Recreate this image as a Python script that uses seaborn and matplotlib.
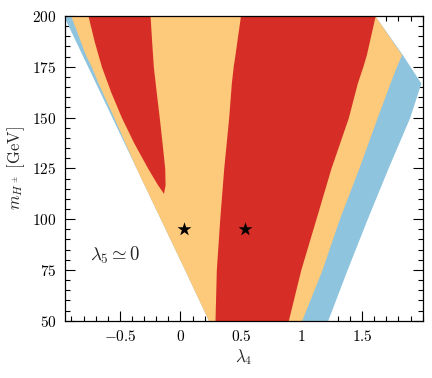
import numpy as np
import matplotlib
matplotlib.use("Agg")
import matplotlib.pyplot as plt
import seaborn as sns
import pandas as pd

# boundaries of the allowed regions (x = lambda_4 at each mass)
m_grid = [50, 75, 100, 125, 150, 167, 175, 181, 200]
edge_left = [0.232, 0.035, -0.165, -0.365, -0.565, -0.701, -0.765, -0.813, -0.965]
edge_blue_left = [0.232, 0.035, -0.165, -0.365, -0.550, -0.680, -0.735, -0.785, -0.905]
edge_red_left = [0.285, 0.296, 0.324, 0.357, 0.398, 0.420, 0.435, 0.450, 0.495]
edge_red_right = [0.890, 0.993, 1.118, 1.242, 1.386, 1.460, 1.505, 1.535, 1.607]
edge_orange_right = [1.000, 1.168, 1.311, 1.472, 1.624, 1.730, 1.782, 1.825, 1.607]
edge_right = [1.215, 1.375, 1.541, 1.713, 1.892, 1.985, 1.897, 1.832, 1.607]

# left red tongue
m_tongue = [112.7, 117, 125, 137.5, 150, 162.5, 175, 187.5, 200]
tongue_left = [-0.140, -0.190, -0.270, -0.385, -0.487, -0.575, -0.652, -0.712, -0.763]
tongue_right = [-0.140, -0.127, -0.130, -0.152, -0.175, -0.200, -0.224, -0.238, -0.251]

# benchmark points
star_lam4 = [0.03, 0.53]
star_mass = [95, 95]

xtick_vals = [-0.5, 0, 0.5, 1, 1.5]
xtick_labels = ["$-0.5$", "$0$", "$0.5$", "$1$", "$1.5$"]
ytick_vals = [50, 75, 100, 125, 150, 175, 200]
ytick_labels = ["$50$", "$75$", "$100$", "$125$", "$150$", "$175$", "$200$"]

c_blue = "#8ec4de"
c_orange = "#fdc97a"
c_red = "#d62e27"

sns.set_theme(style="ticks")
plt.rcParams["mathtext.fontset"] = "cm"
plt.rcParams["font.family"] = ["DejaVu Serif"]

fig = plt.figure(figsize=(4.32, 3.78), dpi=100)
ax = fig.add_axes([0.150, 0.1516, 0.8285, 0.806])

ax.fill_betweenx(m_grid, edge_left, edge_right, color=c_blue, lw=0)
ax.fill_betweenx(m_grid, edge_blue_left, edge_orange_right, color=c_orange, lw=0)
ax.fill_betweenx(m_grid, edge_red_left, edge_red_right, color=c_red, lw=0)
ax.fill_betweenx(m_tongue, tongue_left, tongue_right, color=c_red, lw=0)

stars = pd.DataFrame({"lam4": star_lam4, "mass": star_mass})
sns.scatterplot(data=stars, x="lam4", y="mass", marker="*", s=110,
                color="black", linewidth=0, ax=ax, zorder=5)

ax.text(-0.75, 82, r"$\lambda_5 \simeq 0$", fontsize=13.5, ha="left", va="center")

ax.set_xlim(-0.955, 2.0)
ax.set_ylim(50, 200)
ax.set_xticks(xtick_vals)
ax.set_xticklabels(xtick_labels)
ax.set_yticks(ytick_vals)
ax.set_yticklabels(ytick_labels)
ax.xaxis.set_minor_locator(matplotlib.ticker.MultipleLocator(0.1))
ax.yaxis.set_minor_locator(matplotlib.ticker.MultipleLocator(5))
ax.tick_params(which="both", direction="in", top=True, right=True,
               colors="black", labelsize=11, width=0.8)
ax.tick_params(which="major", length=7, pad=6)
ax.tick_params(which="minor", length=3.5)
for sp in ax.spines.values():
    sp.set_color("black")
    sp.set_linewidth(0.9)

ax.set_xlabel(r"$\lambda_4$", fontsize=12, labelpad=2)
ax.set_ylabel(r"$m_{H^\pm}\ [\mathrm{GeV}]$", fontsize=12, labelpad=4)

fig.savefig("out.png", dpi=100)
